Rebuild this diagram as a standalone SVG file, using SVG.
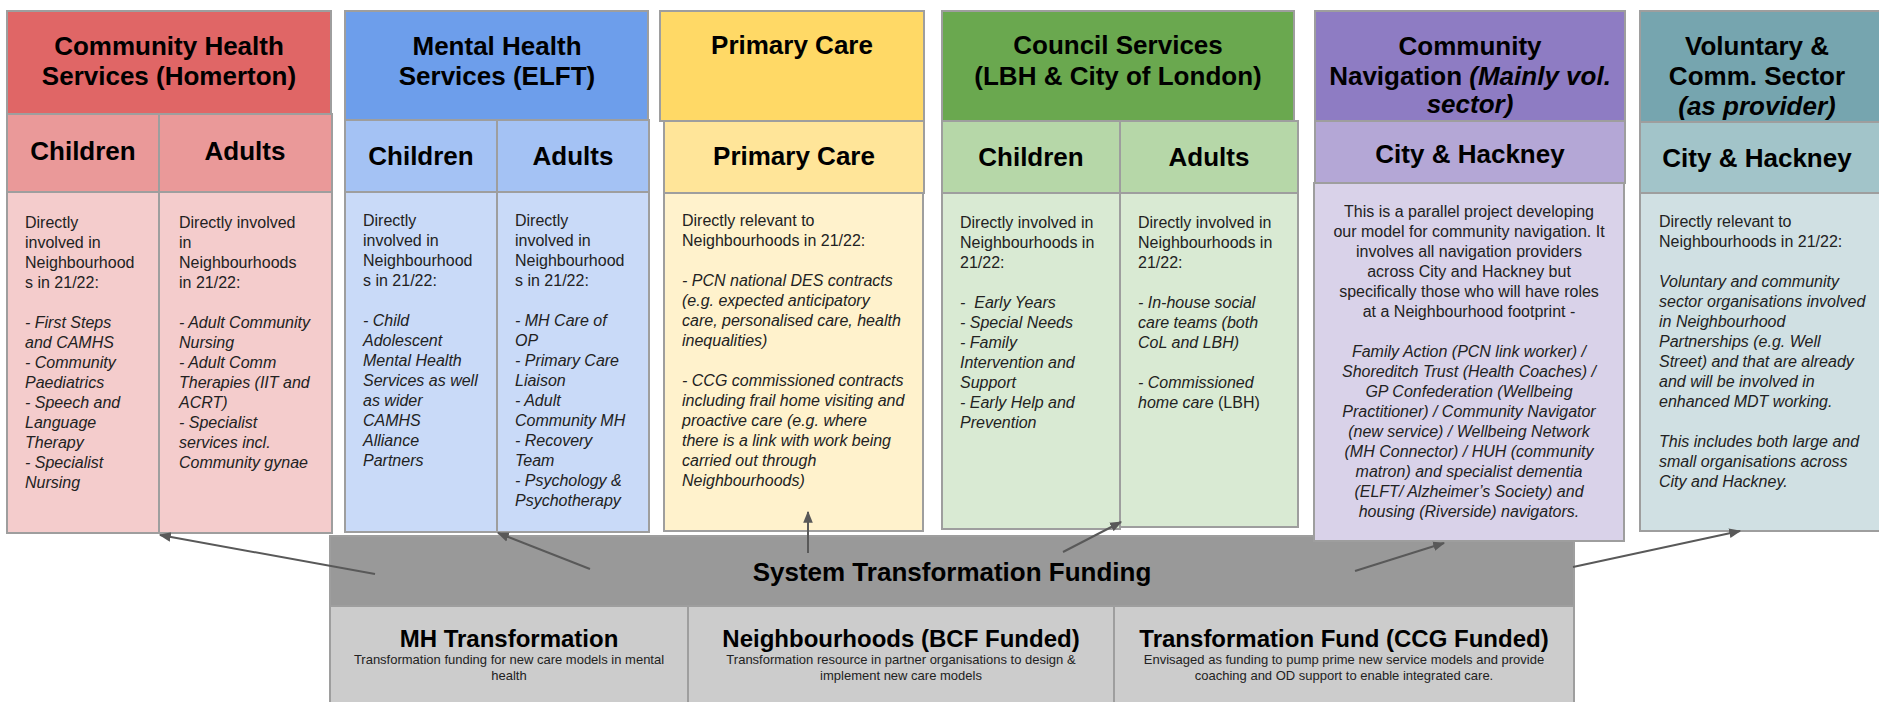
<svg xmlns="http://www.w3.org/2000/svg" width="1879" height="702" viewBox="0 0 1879 702">
<style>
.h{font-family:'Liberation Sans',Arial,sans-serif;font-weight:bold;font-size:26px;text-anchor:middle;fill:#000}
.t{font-family:'Liberation Sans',Arial,sans-serif;font-weight:bold;font-size:24px;text-anchor:middle;fill:#000}
.s{font-family:'Liberation Sans',Arial,sans-serif;font-size:13px;text-anchor:middle;fill:#222}
.b{font-family:'Liberation Sans',Arial,sans-serif;font-size:16px;fill:#222}
.c{text-anchor:middle}
.i{font-style:italic}
.bx{stroke:#9e9e9e;stroke-width:2}
.conn{stroke:#595959;stroke-width:2;fill:none;marker-end:url(#ah)}
</style>
<defs>
<marker id="ah" viewBox="0 0 10 10" refX="9" refY="5" markerWidth="6" markerHeight="6" orient="auto"><path d="M0,1 L10,5 L0,9 z" fill="#595959"/></marker>
</defs>
<rect width="1879" height="702" fill="#fff"/>

<g id="funding">
<rect class="bx" x="330" y="536" width="1244" height="70" fill="#999"/>
<text class="h" x="952" y="581">System Transformation Funding</text>
<rect class="bx" x="330" y="606" width="358" height="100" fill="#ccc"/>
<rect class="bx" x="688" y="606" width="426" height="100" fill="#ccc"/>
<rect class="bx" x="1114" y="606" width="460" height="100" fill="#ccc"/>
<text class="t" x="509" y="647">MH Transformation</text>
<text class="s" x="509" y="664">Transformation funding for new care models in mental</text>
<text class="s" x="509" y="680">health</text>
<text class="t" x="901" y="647">Neighbourhoods (BCF Funded)</text>
<text class="s" x="901" y="664">Transformation resource in partner organisations to design &amp;</text>
<text class="s" x="901" y="680">implement new care models</text>
<text class="t" x="1344" y="647">Transformation Fund (CCG Funded)</text>
<text class="s" x="1344" y="664">Envisaged as funding to pump prime new service models and provide</text>
<text class="s" x="1344" y="680">coaching and OD support to enable integrated care.</text>
</g>

<g id="chs">
<rect class="bx" x="7" y="11" width="324" height="103" fill="#e06666"/>
<rect class="bx" x="7" y="114" width="152" height="78" fill="#ea9999"/>
<rect class="bx" x="159" y="114" width="173" height="78" fill="#ea9999"/>
<rect class="bx" x="7" y="192" width="152" height="341" fill="#f4cccc"/>
<rect class="bx" x="159" y="192" width="173" height="341" fill="#f4cccc"/>
<text class="h" x="169" y="55">Community Health</text>
<text class="h" x="169" y="85">Services (Homerton)</text>
<text class="h" x="83" y="160">Children</text>
<text class="h" x="245" y="160">Adults</text>
<text class="b" x="25" y="228"><tspan x="25">Directly</tspan><tspan x="25" dy="20">involved in</tspan><tspan x="25" dy="20">Neighbourhood</tspan><tspan x="25" dy="20">s in 21/22:</tspan><tspan class="i" x="25" dy="40">- First Steps</tspan><tspan class="i" x="25" dy="20">and CAMHS</tspan><tspan class="i" x="25" dy="20">- Community</tspan><tspan class="i" x="25" dy="20">Paediatrics</tspan><tspan class="i" x="25" dy="20">- Speech and</tspan><tspan class="i" x="25" dy="20">Language</tspan><tspan class="i" x="25" dy="20">Therapy</tspan><tspan class="i" x="25" dy="20">- Specialist</tspan><tspan class="i" x="25" dy="20">Nursing</tspan></text>
<text class="b" x="179" y="228"><tspan x="179">Directly involved</tspan><tspan x="179" dy="20">in</tspan><tspan x="179" dy="20">Neighbourhoods</tspan><tspan x="179" dy="20">in 21/22:</tspan><tspan class="i" x="179" dy="40">- Adult Community</tspan><tspan class="i" x="179" dy="20">Nursing</tspan><tspan class="i" x="179" dy="20">- Adult Comm</tspan><tspan class="i" x="179" dy="20">Therapies (IIT and</tspan><tspan class="i" x="179" dy="20">ACRT)</tspan><tspan class="i" x="179" dy="20">- Specialist</tspan><tspan class="i" x="179" dy="20">services incl.</tspan><tspan class="i" x="179" dy="20">Community gynae</tspan></text>
</g>

<g id="mh">
<rect class="bx" x="345" y="11" width="303" height="109" fill="#6d9eeb"/>
<rect class="bx" x="345" y="120" width="152" height="72" fill="#a4c2f4"/>
<rect class="bx" x="497" y="120" width="152" height="72" fill="#a4c2f4"/>
<rect class="bx" x="345" y="192" width="152" height="340" fill="#c9daf8"/>
<rect class="bx" x="497" y="192" width="152" height="340" fill="#c9daf8"/>
<text class="h" x="497" y="55">Mental Health</text>
<text class="h" x="497" y="85">Services (ELFT)</text>
<text class="h" x="421" y="165">Children</text>
<text class="h" x="573" y="165">Adults</text>
<text class="b" x="363" y="226"><tspan x="363">Directly</tspan><tspan x="363" dy="20">involved in</tspan><tspan x="363" dy="20">Neighbourhood</tspan><tspan x="363" dy="20">s in 21/22:</tspan><tspan class="i" x="363" dy="40">- Child</tspan><tspan class="i" x="363" dy="20">Adolescent</tspan><tspan class="i" x="363" dy="20">Mental Health</tspan><tspan class="i" x="363" dy="20">Services as well</tspan><tspan class="i" x="363" dy="20">as wider</tspan><tspan class="i" x="363" dy="20">CAMHS</tspan><tspan class="i" x="363" dy="20">Alliance</tspan><tspan class="i" x="363" dy="20">Partners</tspan></text>
<text class="b" x="515" y="226"><tspan x="515">Directly</tspan><tspan x="515" dy="20">involved in</tspan><tspan x="515" dy="20">Neighbourhood</tspan><tspan x="515" dy="20">s in 21/22:</tspan><tspan class="i" x="515" dy="40">- MH Care of</tspan><tspan class="i" x="515" dy="20">OP</tspan><tspan class="i" x="515" dy="20">- Primary Care</tspan><tspan class="i" x="515" dy="20">Liaison</tspan><tspan class="i" x="515" dy="20">- Adult</tspan><tspan class="i" x="515" dy="20">Community MH</tspan><tspan class="i" x="515" dy="20">- Recovery</tspan><tspan class="i" x="515" dy="20">Team</tspan><tspan class="i" x="515" dy="20">- Psychology &amp;</tspan><tspan class="i" x="515" dy="20">Psychotherapy</tspan></text>
</g>

<g id="pc">
<rect class="bx" x="660" y="11" width="264" height="110" fill="#ffd966"/>
<rect class="bx" x="664" y="121" width="260" height="72" fill="#ffe599"/>
<rect class="bx" x="664" y="193" width="259" height="338" fill="#fff2cc"/>
<text class="h" x="792" y="54">Primary Care</text>
<text class="h" x="794" y="165">Primary Care</text>
<text class="b" x="682" y="226"><tspan x="682">Directly relevant to</tspan><tspan x="682" dy="20">Neighbourhoods in 21/22:</tspan><tspan class="i" x="682" dy="40">- PCN national DES contracts</tspan><tspan class="i" x="682" dy="20">(e.g. expected anticipatory</tspan><tspan class="i" x="682" dy="20">care, personalised care, health</tspan><tspan class="i" x="682" dy="20">inequalities)</tspan><tspan class="i" x="682" dy="40">- CCG commissioned contracts</tspan><tspan class="i" x="682" dy="20">including frail home visiting and</tspan><tspan class="i" x="682" dy="20">proactive care (e.g. where</tspan><tspan class="i" x="682" dy="20">there is a link with work being</tspan><tspan class="i" x="682" dy="20">carried out through</tspan><tspan class="i" x="682" dy="20">Neighbourhoods)</tspan></text>
</g>

<g id="council">
<rect class="bx" x="942" y="11" width="352" height="110" fill="#6aa84f"/>
<rect class="bx" x="942" y="121" width="178" height="72" fill="#b6d7a8"/>
<rect class="bx" x="1120" y="121" width="178" height="72" fill="#b6d7a8"/>
<rect class="bx" x="942" y="193" width="178" height="336" fill="#d9ead3"/>
<rect class="bx" x="1120" y="193" width="178" height="334" fill="#d9ead3"/>
<text class="h" x="1118" y="54">Council Services</text>
<text class="h" x="1118" y="85">(LBH &amp; City of London)</text>
<text class="h" x="1031" y="166">Children</text>
<text class="h" x="1209" y="166">Adults</text>
<text class="b" x="960" y="228"><tspan x="960">Directly involved in</tspan><tspan x="960" dy="20">Neighbourhoods in</tspan><tspan x="960" dy="20">21/22:</tspan><tspan class="i" x="960" dy="40" xml:space="preserve">-  Early Years</tspan><tspan class="i" x="960" dy="20">- Special Needs</tspan><tspan class="i" x="960" dy="20">- Family</tspan><tspan class="i" x="960" dy="20">Intervention and</tspan><tspan class="i" x="960" dy="20">Support</tspan><tspan class="i" x="960" dy="20">- Early Help and</tspan><tspan class="i" x="960" dy="20">Prevention</tspan></text>
<text class="b" x="1138" y="228"><tspan x="1138">Directly involved in</tspan><tspan x="1138" dy="20">Neighbourhoods in</tspan><tspan x="1138" dy="20">21/22:</tspan><tspan class="i" x="1138" dy="40">- In-house social</tspan><tspan class="i" x="1138" dy="20">care teams (both</tspan><tspan class="i" x="1138" dy="20">CoL and LBH)</tspan><tspan class="i" x="1138" dy="40">- Commissioned</tspan><tspan class="i" x="1138" dy="20">home care</tspan><tspan> (LBH)</tspan></text>
</g>

<g id="nav">
<rect class="bx" x="1315" y="11" width="310" height="110" fill="#8e7cc3"/>
<rect class="bx" x="1315" y="121" width="310" height="62" fill="#b4a7d6"/>
<rect class="bx" x="1314" y="183" width="310" height="358" fill="#d9d2e9"/>
<text class="h" x="1470" y="55">Community</text>
<text class="h" x="1470" y="85">Navigation <tspan class="i">(Mainly vol.</tspan></text>
<text class="h i" x="1470" y="113">sector)</text>
<text class="h" x="1470" y="163">City &amp; Hackney</text>
<text class="b c" x="1469" y="217"><tspan x="1469">This is a parallel project developing</tspan><tspan x="1469" dy="20">our model for community navigation. It</tspan><tspan x="1469" dy="20">involves all navigation providers</tspan><tspan x="1469" dy="20">across City and Hackney but</tspan><tspan x="1469" dy="20">specifically those who will have roles</tspan><tspan x="1469" dy="20">at a Neighbourhood footprint -</tspan><tspan class="i" x="1469" dy="40">Family Action (PCN link worker) /</tspan><tspan class="i" x="1469" dy="20">Shoreditch Trust (Health Coaches) /</tspan><tspan class="i" x="1469" dy="20">GP Confederation (Wellbeing</tspan><tspan class="i" x="1469" dy="20">Practitioner) / Community Navigator</tspan><tspan class="i" x="1469" dy="20">(new service) / Wellbeing Network</tspan><tspan class="i" x="1469" dy="20">(MH Connector) / HUH (community</tspan><tspan class="i" x="1469" dy="20">matron) and specialist dementia</tspan><tspan class="i" x="1469" dy="20">(ELFT/ Alzheimer’s Society) and</tspan><tspan class="i" x="1469" dy="20">housing (Riverside) navigators.</tspan></text>
</g>

<g id="vol">
<rect class="bx" x="1640" y="11" width="245" height="111" fill="#76a5af"/>
<rect class="bx" x="1640" y="122" width="245" height="71" fill="#a2c4c9"/>
<rect class="bx" x="1640" y="193" width="245" height="338" fill="#d0e0e3"/>
<text class="h" x="1757" y="55">Voluntary &amp;</text>
<text class="h" x="1757" y="85">Comm. Sector</text>
<text class="h i" x="1757" y="115">(as provider)</text>
<text class="h" x="1757" y="167">City &amp; Hackney</text>
<text class="b" x="1659" y="227"><tspan x="1659">Directly relevant to</tspan><tspan x="1659" dy="20">Neighbourhoods in 21/22:</tspan><tspan class="i" x="1659" dy="40">Voluntary and community</tspan><tspan class="i" x="1659" dy="20">sector organisations involved</tspan><tspan class="i" x="1659" dy="20">in Neighbourhood</tspan><tspan class="i" x="1659" dy="20">Partnerships (e.g. Well</tspan><tspan class="i" x="1659" dy="20">Street) and that are already</tspan><tspan class="i" x="1659" dy="20">and will be involved in</tspan><tspan class="i" x="1659" dy="20">enhanced MDT working.</tspan><tspan class="i" x="1659" dy="40">This includes both large and</tspan><tspan class="i" x="1659" dy="20">small organisations across</tspan><tspan class="i" x="1659" dy="20">City and Hackney.</tspan></text>
</g>

<g id="connectors">
<line class="conn" x1="375" y1="574" x2="160" y2="535"/>
<line class="conn" x1="590" y1="569" x2="498" y2="533"/>
<line class="conn" x1="808" y1="553" x2="808" y2="512"/>
<line class="conn" x1="1063" y1="552" x2="1121" y2="522"/>
<line class="conn" x1="1355" y1="571" x2="1444" y2="543"/>
<line class="conn" x1="1573" y1="567" x2="1740" y2="531"/>
</g>
</svg>
